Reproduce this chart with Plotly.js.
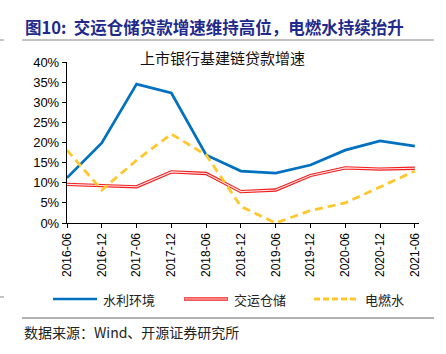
<!DOCTYPE html>
<html><head><meta charset="utf-8">
<script src="https://cdn.plot.ly/plotly-3.0.1.min.js"></script>
<style>html,body{margin:0;padding:0;background:#fff;}#chart{width:446px;height:354px;}</style>
</head><body><div id="chart"></div>
<script>
var categories = ["2016-06","2016-12","2017-06","2017-12","2018-06","2018-12","2019-06","2019-12","2020-06","2020-12","2021-06"];
var waterEnv   = [11.2, 19.9, 34.5, 32.3, 16.9, 12.9, 12.4, 14.4, 18.1, 20.4, 19.1];
var transport  = [9.6, 9.3, 9.0, 12.7, 12.3, 7.8, 8.2, 11.8, 13.7, 13.4, 13.6];
var utilities  = [18.1, 8.2, 15.6, 22.1, 16.9, 4.1, 0.0, 3.1, 5.0, 9.0, 12.9];
var yTickVals  = [0,5,10,15,20,25,30,35,40];
var yTickText  = ["0%","5%","10%","15%","20%","25%","30%","35%","40%"];
var seriesNames = ["水利环境","交运仓储","电燃水"];

var cjk = "Noto Sans CJK SC";
var L=67, R=419, T=62, B=223;
function px(x){return (x-L)/(R-L);}
function py(y){return (B-y)/(B-T);}

var traces = [
  {x:categories, y:waterEnv, type:"scatter", mode:"lines", line:{color:"#0070C0", width:2.7}, name:seriesNames[0], showlegend:false},
  {x:categories, y:transport, type:"scatter", mode:"lines", line:{color:"#F01E1E", width:3.3}, name:seriesNames[1], showlegend:false},
  {x:categories, y:transport, type:"scatter", mode:"lines", line:{color:"#FFE4E4", width:1.1}, showlegend:false, hoverinfo:"skip"},
  {x:categories, y:utilities, type:"scatter", mode:"lines", line:{color:"#FFC72C", width:2.8, dash:"8px,5px"}, name:seriesNames[2], showlegend:false}
];

var ly = py(299);
var shapes = [
  {type:"line", xref:"paper", yref:"paper", x0:px(22), x1:px(434), y0:py(40), y1:py(40), line:{color:"#888", width:1.2}},
  {type:"line", xref:"paper", yref:"paper", x0:px(22), x1:px(434), y0:py(318), y1:py(318), line:{color:"#666", width:1.2}},
  {type:"line", xref:"paper", yref:"paper", x0:px(0), x1:px(4), y0:py(40), y1:py(40), line:{color:"#888", width:1}},
  {type:"line", xref:"paper", yref:"paper", x0:px(0), x1:px(4), y0:py(297), y1:py(297), line:{color:"#888", width:1}},
  {type:"line", xref:"paper", yref:"paper", x0:px(53), x1:px(97), y0:ly, y1:ly, line:{color:"#0070C0", width:2.7}},
  {type:"line", xref:"paper", yref:"paper", x0:px(184), x1:px(228), y0:ly, y1:ly, line:{color:"#F01E1E", width:3.3}},
  {type:"line", xref:"paper", yref:"paper", x0:px(184.5), x1:px(227.5), y0:ly, y1:ly, line:{color:"#FFE4E4", width:1.1}},
  {type:"line", xref:"paper", yref:"paper", x0:px(314), x1:px(359), y0:ly, y1:ly, line:{color:"#FFC72C", width:2.8, dash:"6px,3px"}}
];

var annotations = [
  {text:"<b>图10:  交运仓储贷款增速维持高位，电燃水持续抬升</b>", xref:"paper", yref:"paper", x:px(23), y:py(27), xanchor:"left", yanchor:"middle", showarrow:false, font:{family:cjk, size:16.5, color:"#1F2A8C"}},
  {text:"上市银行基建链贷款增速", xref:"paper", yref:"paper", x:px(222), y:py(58), xanchor:"center", yanchor:"middle", showarrow:false, font:{family:cjk, size:15, color:"#111"}},
  {text:seriesNames[0], xref:"paper", yref:"paper", x:px(101), y:ly, xanchor:"left", yanchor:"middle", showarrow:false, font:{family:cjk, size:13, color:"#222"}},
  {text:seriesNames[1], xref:"paper", yref:"paper", x:px(232), y:ly, xanchor:"left", yanchor:"middle", showarrow:false, font:{family:cjk, size:13, color:"#222"}},
  {text:seriesNames[2], xref:"paper", yref:"paper", x:px(363), y:ly, xanchor:"left", yanchor:"middle", showarrow:false, font:{family:cjk, size:13, color:"#222"}},
  {text:"数据来源：Wind、开源证券研究所", xref:"paper", yref:"paper", x:px(22), y:py(332), xanchor:"left", yanchor:"middle", showarrow:false, font:{family:cjk, size:14, color:"#222"}}
];

var layout = {
  width:446, height:354,
  margin:{l:L, r:446-R, t:T, b:354-B, pad:0},
  paper_bgcolor:"#fff", plot_bgcolor:"#fff",
  showlegend:false,
  xaxis:{type:"category", range:[0, 10.12], showgrid:false, zeroline:false, showline:true, linecolor:"#000", linewidth:1.2,
         ticks:"outside", ticklen:4, tickcolor:"#000", tickangle:-90, tickfont:{family:"Liberation Sans, Arial", size:12, color:"#000"}},
  yaxis:{range:[0,40], tickvals:yTickVals, ticktext:yTickText, showgrid:false, zeroline:false, showline:true, linecolor:"#000", linewidth:1.2,
         ticks:"outside", ticklen:4, tickcolor:"#000", tickfont:{family:"Liberation Sans, Arial", size:13, color:"#000"}},
  shapes:shapes, annotations:annotations
};
Plotly.newPlot("chart", traces, layout, {staticPlot:true, displayModeBar:false});
</script></body></html>
